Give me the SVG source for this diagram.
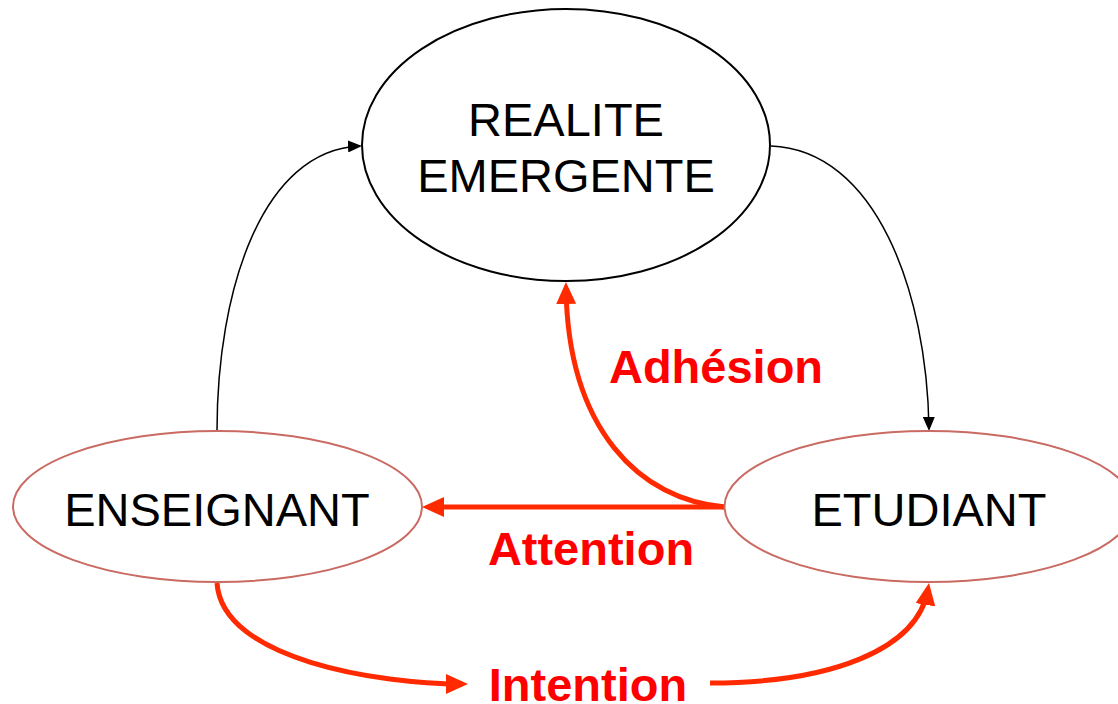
<svg xmlns="http://www.w3.org/2000/svg" width="1118" height="704" viewBox="0 0 1118 704">
<style>
.node-black{fill:#fff;stroke:#000;stroke-width:2}
.node-red{fill:#fff;stroke:#c96a63;stroke-width:2}
.lbl{font-family:"Liberation Sans",Arial,sans-serif;font-size:47px;fill:#000;text-anchor:middle}
.rlbl{font-family:"Liberation Sans",Arial,sans-serif;font-size:47px;font-weight:bold;fill:#ff0000;text-anchor:middle}
.blk{fill:none;stroke:#000;stroke-width:1.5}
.red{fill:none;stroke:#ff2a00;stroke-width:5}
</style>
<defs>
<marker id="ab" markerUnits="userSpaceOnUse" markerWidth="14" markerHeight="12" refX="12" refY="6" orient="auto" viewBox="0 0 14 12">
<path d="M0,0 L14,6 L0,12 z" fill="#000"/>
</marker>
<marker id="ar" markerUnits="userSpaceOnUse" markerWidth="22" markerHeight="20" refX="16" refY="10" orient="auto" viewBox="0 0 22 20">
<path d="M0,0 L22,10 L0,20 z" fill="#ff2a00"/>
</marker>
</defs>
<rect width="1118" height="704" fill="#fff"/>
<g id="connectors">
<path class="blk" d="M217,431 C217,290 262,150 360,146" marker-end="url(#ab)"/>
<path class="blk" d="M771,146 C875,150 927,290 929,429" marker-end="url(#ab)"/>
<path class="red" d="M725,507 C640,500 568,430 566,288" marker-end="url(#ar)"/>
<path class="red" d="M725,507 L428,507" marker-end="url(#ar)"/>
<path class="red" d="M217,583 C222,660 380,684 462,684" marker-end="url(#ar)"/>
<path class="red" d="M710,683 C830,683 918,650 928,589" marker-end="url(#ar)"/>
</g>
<g id="node-realite">
<ellipse class="node-black" cx="566" cy="145" rx="204" ry="136"/>
<text class="lbl" x="566" y="136">REALITE</text>
<text class="lbl" x="566" y="192">EMERGENTE</text>
</g>
<g id="node-enseignant">
<ellipse class="node-red" cx="217.5" cy="506.5" rx="204.5" ry="75.5"/>
<text class="lbl" x="217" y="526">ENSEIGNANT</text>
</g>
<g id="node-etudiant">
<ellipse class="node-red" cx="929" cy="506.5" rx="204.5" ry="75.5"/>
<text class="lbl" x="929" y="526">ETUDIANT</text>
</g>
<g id="labels">
<text class="rlbl" x="716" y="383">Adhésion</text>
<text class="rlbl" x="591" y="565">Attention</text>
<text class="rlbl" x="588" y="701">Intention</text>
</g>
</svg>
